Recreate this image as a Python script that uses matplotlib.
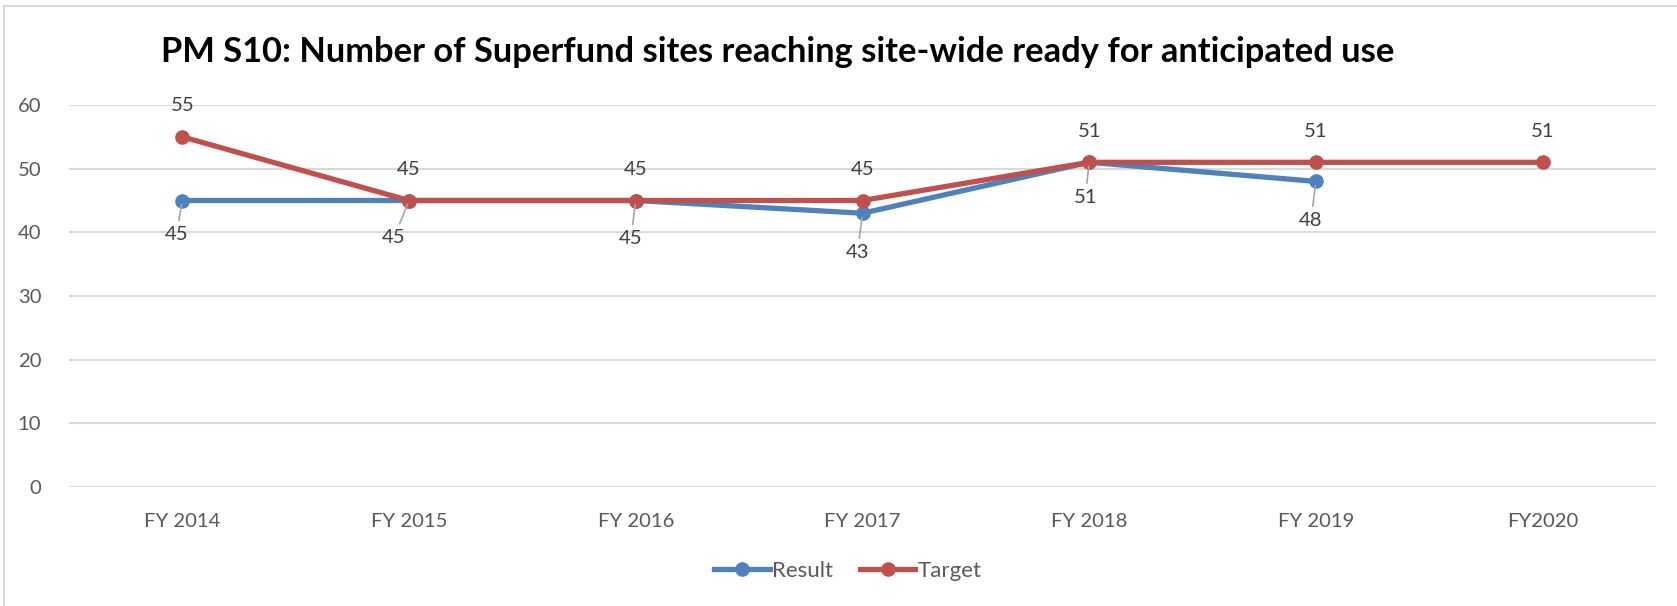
import matplotlib
matplotlib.use("Agg")
import matplotlib.pyplot as plt
from matplotlib.lines import Line2D

categories = ["FY 2014", "FY 2015", "FY 2016", "FY 2017", "FY 2018", "FY 2019", "FY2020"]
result = [45, 45, 45, 43, 51, 48]
target = [55, 45, 45, 45, 51, 51, 51]
yticks = [0, 10, 20, 30, 40, 50, 60]
title = "PM S10: Number of Superfund sites reaching site-wide ready for anticipated use"

# label placement (pixel offsets from the marker)
result_label_offsets = [(-6, -34), (-15, -37), (-5, -38), (-5, -39), (-4, -35), (-5, -39)]
target_label_offset = (0, 31)

BLUE = "#4F81BD"
RED = "#C0504D"
FONT = ["Lato", "DejaVu Sans"]

plt.rcParams["font.family"] = FONT

W, H = 1677, 606
fig = plt.figure(figsize=(W / 100, H / 100), dpi=100)
ax = fig.add_axes([69 / W, 1 - 487 / H, (1656 - 69) / W, (487 - 105) / H])

xr = list(range(len(result)))
xt = list(range(len(target)))

ax.plot(xr, result, color=BLUE, lw=3.8, marker="o", ms=9.5, solid_capstyle="round",
        label="Result", zorder=3)
ax.plot(xt, target, color=RED, lw=3.8, marker="o", ms=9.5, solid_capstyle="round",
        label="Target", zorder=4)

ax.set_xlim(-0.5, len(categories) - 0.5)
ax.set_ylim(0, 60)
ax.set_yticks(yticks)
ax.set_xticks(xt)
ax.set_xticklabels(categories)
ax.grid(axis="y", color="#D9D9D9", lw=1.5)
ax.set_axisbelow(True)
for s in ax.spines.values():
    s.set_visible(False)
ax.tick_params(axis="both", length=0, labelsize=14.6, colors="#595959")
ax.tick_params(axis="y", pad=20)
ax.tick_params(axis="x", pad=19)
for lab in ax.get_yticklabels():
    lab.set_horizontalalignment("right")

# data labels
for i, v in enumerate(result):
    dx, dy = result_label_offsets[i]
    ax.annotate(str(v), xy=(i, v), xytext=(dx, dy), textcoords="offset pixels",
                ha="center", va="center", fontsize=14.6, color="#404040", zorder=5,
                arrowprops=dict(arrowstyle="-", color="#A6A6A6", lw=1.2,
                                shrinkA=2, shrinkB=3))
for i, v in enumerate(target):
    ax.annotate(str(v), xy=(i, v), xytext=target_label_offset, textcoords="offset pixels",
                ha="center", va="center", fontsize=14.6, color="#404040", zorder=5)

# title
fig.text(778 / W, 1 - 52 / H, title, ha="center", va="center", fontsize=24.8,
         fontweight="bold", color="black")

# legend
leg = fig.legend(handles=[Line2D([], [], color=BLUE, lw=3.8, marker="o", ms=9.5),
                          Line2D([], [], color=RED, lw=3.8, marker="o", ms=9.5)],
                 labels=["Result", "Target"], loc="center", bbox_to_anchor=(848 / W, 1 - 571 / H),
                 ncol=2, frameon=False, fontsize=16, handlelength=2.5, handletextpad=0.12,
                 columnspacing=1.2)
for t in leg.get_texts():
    t.set_color("#595959")

# chart border (left and top visible)
fig.add_artist(Line2D([4 / W, 4 / W], [0, 1 - 6 / H], color="#D9D9D9", lw=1.5,
                      transform=fig.transFigure))
fig.add_artist(Line2D([4 / W, 1], [1 - 6 / H, 1 - 6 / H], color="#D9D9D9", lw=1.5,
                      transform=fig.transFigure))

fig.savefig("out.png", dpi=100, facecolor="white")
